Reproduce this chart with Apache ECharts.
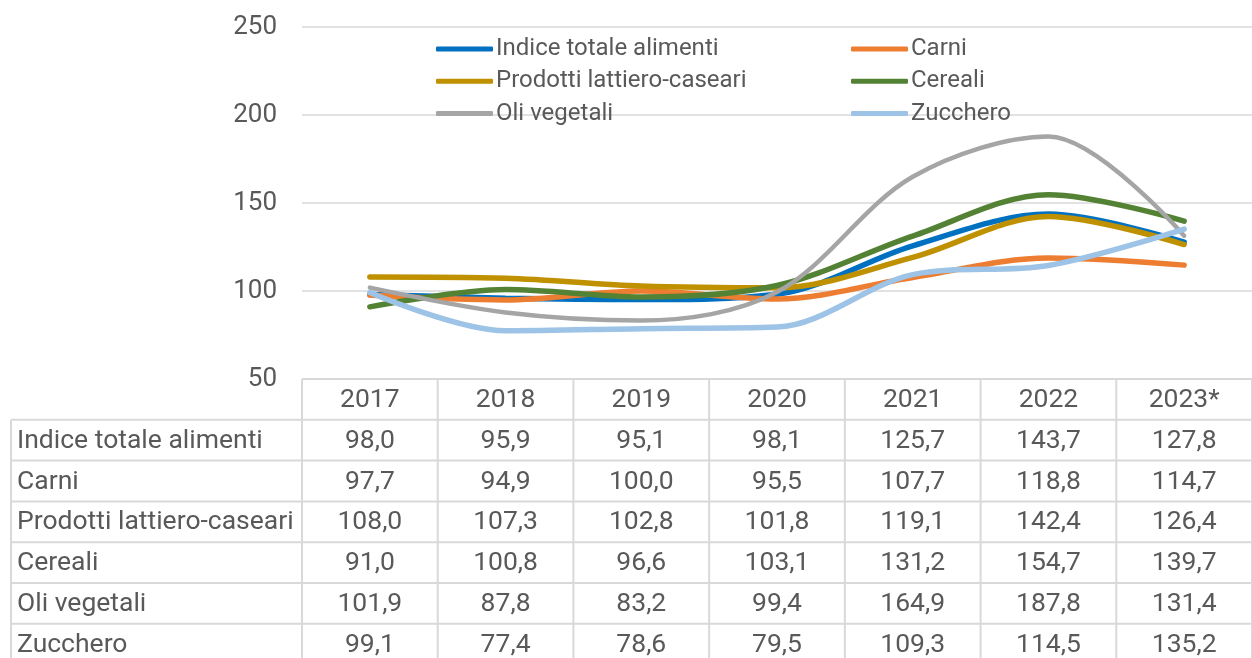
<!DOCTYPE html>
<html>
<head>
<meta charset="utf-8">
<title>Indici FAO</title>
<script src="https://cdn.jsdelivr.net/npm/echarts@6/dist/echarts.min.js"></script>
<style>
html,body{margin:0;padding:0;background:#fff;}
#chart_main{width:1252px;height:658px;}
</style>
</head>
<body>
<div id="chart_main"></div>
<script type="text/javascript">
// dati
var anni = ['2017', '2018', '2019', '2020', '2021', '2022', '2023*'];
var indiceTotale = [98.0, 95.9, 95.1, 98.1, 125.7, 143.7, 127.8];
var carni = [97.7, 94.9, 100.0, 95.5, 107.7, 118.8, 114.7];
var lattieroCaseari = [108.0, 107.3, 102.8, 101.8, 119.1, 142.4, 126.4];
var cereali = [91.0, 100.8, 96.6, 103.1, 131.2, 154.7, 139.7];
var oliVegetali = [101.9, 87.8, 83.2, 99.4, 164.9, 187.8, 131.4];
var zucchero = [99.1, 77.4, 78.6, 79.5, 109.3, 114.5, 135.2];
var nomi = ['Indice totale alimenti', 'Carni', 'Prodotti lattiero-caseari', 'Cereali', 'Oli vegetali', 'Zucchero'];
var valori = [indiceTotale, carni, lattieroCaseari, cereali, oliVegetali, zucchero];
var colori = ['#0070c0', '#ed7d31', '#bf9000', '#548235', '#a5a5a5', '#9dc3e6'];
var spessori = [5.5, 5.5, 5.5, 5.5, 4.5, 5.5];

var testo = '#595959';
var bordo = '#d9d9d9';
var font = 'Roboto';

var myChart = echarts.init(document.getElementById('chart_main'));

var series_data = [];
for (var i = 0; i < nomi.length; i++) {
    series_data.push({
        name: nomi[i],
        type: 'line',
        data: valori[i],
        smooth: 0.33,
        symbol: 'none',
        lineStyle: {width: spessori[i], color: colori[i], cap: 'round'},
        itemStyle: {color: colori[i]}
    });
}

var legendStyle = {
    orient: 'vertical',
    padding: 0,
    icon: 'roundRect',
    itemWidth: 57,
    itemHeight: 5,
    itemGap: 8.3,
    textStyle: {fontFamily: font, fontSize: 24, color: testo, lineHeight: 24, padding: [0, 0, 0, -2]}
};

var option = {
    animation: false,
    color: colori,
    grid: {left: 302, top: 27, width: 962, height: 352},
    legend: [
        Object.assign({left: 436, top: 37, data: [nomi[0], nomi[2], nomi[4]]}, legendStyle),
        Object.assign({left: 851, top: 37, data: [nomi[1], nomi[3], nomi[5]]}, legendStyle)
    ],
    xAxis: {
        type: 'category',
        data: anni,
        boundaryGap: true,
        axisLine: {show: false},
        axisTick: {show: false},
        axisLabel: {show: false}
    },
    yAxis: {
        type: 'value',
        min: 50,
        max: 250,
        interval: 50,
        axisLine: {show: false},
        axisTick: {show: false},
        axisLabel: {fontFamily: font, fontSize: 26, color: testo, margin: 25},
        splitLine: {lineStyle: {color: bordo, width: 1.5}}
    },
    series: series_data
};
myChart.setOption(option);

// tabella dati sotto il grafico
function fmt(v) {
    return v.toFixed(1).replace('.', ',');
}
var rigaH = 40.8;
var y0 = myChart.convertToPixel({yAxisIndex: 0}, 50);
var xc = anni.map(function (a, i) { return myChart.convertToPixel({xAxisIndex: 0}, i); });
var colW = xc[1] - xc[0];
var xLeft = xc[0] - colW / 2;
var xRight = 1252;
var yBottom = y0 + rigaH * (nomi.length + 1);
var lineStyle = {stroke: bordo, lineWidth: 2};
var g = [];

g.push({type: 'line', shape: {x1: xLeft, y1: y0, x2: xRight, y2: y0}, style: lineStyle});
for (var r = 1; r <= nomi.length + 1; r++) {
    g.push({type: 'line', shape: {x1: 11, y1: y0 + r * rigaH, x2: xRight, y2: y0 + r * rigaH}, style: lineStyle});
}
g.push({type: 'line', shape: {x1: 11, y1: y0 + rigaH, x2: 11, y2: yBottom}, style: lineStyle});
for (var c = 0; c <= anni.length; c++) {
    var xx = xLeft + c * colW;
    g.push({type: 'line', shape: {x1: xx, y1: y0, x2: xx, y2: yBottom}, style: lineStyle});
}

var txt = {fontFamily: font, fontSize: 26.5, fill: testo, textVerticalAlign: 'middle'};
anni.forEach(function (a, i) {
    g.push({type: 'text', x: xc[i], y: y0 + rigaH / 2 + 1,
        style: Object.assign({text: a, textAlign: 'center'}, txt)});
});
nomi.forEach(function (n, r) {
    var yy = y0 + rigaH * (r + 1.5) + 1;
    g.push({type: 'text', x: 17, y: yy, style: Object.assign({text: n, textAlign: 'left'}, txt)});
    valori[r].forEach(function (v, i) {
        g.push({type: 'text', x: xc[i], y: yy, style: Object.assign({text: fmt(v), textAlign: 'center'}, txt)});
    });
});

myChart.setOption({graphic: g});
</script>
</body>
</html>
